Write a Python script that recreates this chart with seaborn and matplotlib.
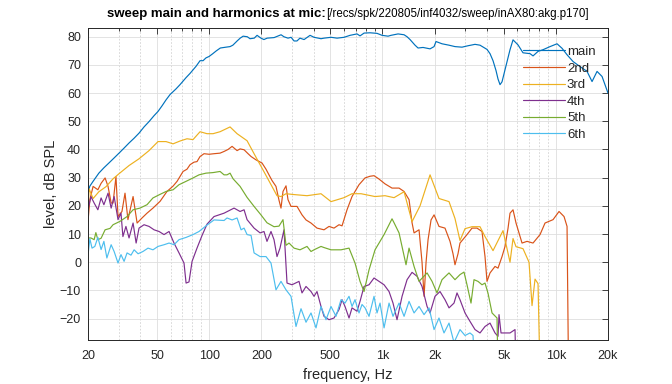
import numpy as np
import pandas as pd
import matplotlib
matplotlib.use("Agg")
import matplotlib.pyplot as plt
from matplotlib.ticker import LogLocator, NullFormatter
import seaborn as sns

# fundamental ("main"), frequency in Hz, level in dB SPL
main_f = [20, 20.5, 21.4, 23.1, 24.7, 26.4, 28.3, 30.2, 32.3, 34.5, 36.9, 39.4, 42.1, 45.0, 48.1,
          50.7, 53.5, 56.4, 59.5, 64.4, 67.9, 73.6, 77.6, 84.0, 88.6, 92.2, 95.9, 99.9, 105, 110,
          116, 125, 132, 137, 145, 151, 157, 166, 172, 182, 189, 199, 207, 216, 237, 260, 270,
          285, 297, 309, 321, 334, 353, 382, 403, 442, 460, 505, 547, 600, 650, 713, 742, 783,
          848, 930, 994, 1077, 1120, 1230, 1332, 1386, 1442, 1541, 1604, 1714, 1881, 1984, 2036,
          2205, 2420, 2620, 2876, 3115, 3418, 3653, 4009, 4172, 4342, 4518, 4640, 4765, 4893,
          5093, 5442, 5664, 6053, 6468, 7099, 7388, 7895, 8438, 9261, 10163, 10861, 11608,
          12571, 13797, 15142, 16182, 17294, 18482, 20000]
main_db = [25, 27, 28.7, 31.6, 33.5, 35.2, 37, 38.7, 40.5, 42.3, 44, 45.8, 48, 49.9, 52,
           53.5, 55.5, 57.6, 59.5, 61.5, 63, 65.5, 67, 69.5, 71.5, 71.5, 72.5, 73, 74, 75,
           76, 76.3, 76.5, 77, 78.5, 79.5, 80.2, 80, 79.3, 79.5, 80.5, 79.5, 79, 79.5, 79.7, 80.7, 80,
           79.5, 79.8, 78.5, 78.5, 79.5, 79, 80.5, 79.8, 79.3, 79.5, 79.8, 79.5, 79.8, 80.5, 81, 80.3, 81.3,
           81.4, 81.2, 80.5, 80.2, 80.5, 81, 80.7, 80, 79, 77, 76, 76.2, 75.7, 76.5, 78.3,
           77.5, 77, 76.5, 76.3, 76.8, 77.3, 77, 75.5, 74, 71.5, 68, 65, 63, 64,
           68.3, 75.4, 78.9, 77.1, 74.3, 74, 73.2, 74.8, 75.4, 76.5, 77.5, 75.9, 73.6,
           71.2, 69.4, 67.7, 64.1, 67.7, 65.9, 60]

# 2nd harmonic
h2_f = [20, 20.5, 21.4, 22.8, 23.8, 25.1, 26.1, 27.2, 27.9, 29.0, 29.8, 31.4, 32.7, 34.0, 36.4,
        38.4, 41.0, 43.8, 47.4, 52.1, 57.1, 61.9, 65.3, 70.7, 74.5, 77.6, 81.8, 85.1, 88.6, 93.4,
        99.9, 106.7, 115.6, 121.9, 128.5, 135.6, 144.9, 150.8, 159.0, 167.7, 174.5, 186.5, 201.8,
        212.8, 221.4, 230.4, 243.0, 252.9, 259.7, 266.7, 277.6, 285.0, 296.6, 321.3, 343.3, 362.1,
        386.9, 419.0, 459.9, 491.5, 525.2, 561.3, 584.2, 624.3, 667.2, 732.2, 793.0, 847.5, 893.8,
        955.2, 1034, 1135, 1246, 1332, 1423, 1481, 1521, 1625, 1691, 1737, 1784, 1832, 1906, 1984,
        2118, 2294, 2452, 2552, 2620, 2727, 2800, 3073, 3285, 3510, 3751, 3904, 4009, 4172, 4459,
        4640, 4893, 5093, 5299, 5442, 5664, 5894, 6383, 6822, 7388, 8108, 8665, 9637, 10437,
        11154, 11608, 11842]
h2_db = [14.5, 22.2, 26.9, 25.7, 28, 29.9, 26.9, 21, 21, 30.4, 16.2, 18, 24.5, 15.1, 23.3,
         13.9, 15.7, 17.4, 19.2, 21.6, 25.1, 27, 28.7, 32.2, 33, 34.6, 35.5, 35.7, 37.5, 38.5,
         38.3, 38.5, 38.7, 39.3, 40, 41.1, 39.6, 40.2, 39.9, 38.5, 37.5, 36.3, 35.2,
         33, 31, 29, 26.9, 22, 19.2, 25.1, 27.1, 22.2, 19.8, 19.8, 16.8, 15,
         13.9, 12.1, 11.5, 12.7, 12.1, 13.3, 12.9, 18.6, 23.3, 27.5, 29.9, 30.5, 30.7,
         29.5, 27.8, 26.3, 26.3, 25.1, 22.2, 14, 10.4, 11.5, 0, -12.1, 0, 8, 15, 16.8,
         12.7, 12.1, 7.4, 3, -0.9, 3, 6.8, 9.8, 12.1, 12.1, 10.9, 2, -6.8, -3.8, -1.5,
         -2.1, 2, 5.6, 12, 17.4, 18.6, 13.9, 6.8, 7.4, 6.8, 9.8, 13.9, 15.1, 18,
         16.2, 12.7, -40]

# 3rd harmonic
h3_f = [20, 20.3, 21.4, 23.1, 25.4, 27.9, 30.2, 34.5, 39.4, 45.0, 50.7, 56.4, 61.9, 67.9, 74.5,
        80.7, 88.6, 97.2, 105.3, 115.6, 132.0, 144.9, 165.5, 181.6, 207.2, 246.3, 259.7, 277.6,
        308.7, 366.9, 441.9, 504.7, 599.9, 667.2, 751.9, 905.7, 1034, 1166, 1332, 1481, 1647,
        1881, 2118, 2420, 2620, 2800, 2993, 3285, 3653, 3904, 4342, 4959, 5442, 5664, 5894,
        6468, 7005, 7290, 7587, 7895, 8108]
h3_db = [19, 26, 22.6, 25, 26.8, 29.6, 31.4, 34.3, 36.7, 39.6, 42.8, 42.8, 42, 43, 43.8,
         43.5, 46.3, 45.6, 45.6, 46.3, 48, 45.6, 43.1, 38.5, 32.1, 23.6, 23.3, 24.3,
         24, 23.6, 24.3, 21.5, 22.9, 24.3, 24.3, 23.3, 23.6, 22.9, 25, 14.4, 20,
         31, 22.6, 21.5, 15.5, 7.7, 11.9, 12.6, 12.6, 9.1, 4.1, 11.2, 0, 8.4, 5.5,
         4.8, 0, -15.4, -6, -7.6, -40]

# 4th harmonic
h4_f = [20, 20.8, 21.7, 22.8, 23.8, 24.7, 26.1, 27.2, 28.3, 29.8, 31.0, 31.8, 33.1, 34.5, 36.4,
        37.9, 39.4, 42.1, 45.0, 48.1, 51.4, 54.9, 58.7, 62.7, 67.0, 71.6, 73.6, 76.5, 79.7, 85.1,
        91.0, 97.2, 106.7, 121.9, 139.2, 150.8, 159.0, 165.5, 181.6, 196.7, 207.2, 215.6, 227.4,
        236.7, 246.3, 256.3, 270.3, 281.3, 300.6, 329.9, 343.3, 362.1, 386.9, 402.7, 419.0, 441.9,
        459.9, 491.5, 525.2, 561.3, 584.2, 607.9, 641.1, 667.2, 713.0, 742.0, 782.5, 836.3, 893.8,
        955.2, 1021, 1091, 1150, 1213, 1297, 1386, 1481, 1583, 1691, 1808, 1881, 2009, 2147,
        2294, 2420, 2586, 2691, 2800, 2993, 3198, 3418, 3653, 3904, 4172, 4459, 4640, 4702,
        4829, 5442, 5816, 5894]
h4_db = [18.6, 23.3, 21, 18.6, 22.8, 20.4, 24.5, 19.2, 23.3, 15.1, 17.4, 9.1, 12.7, 8.6, 13.9,
         6.8, 12.1, 13.3, 12.7, 11.5, 10.9, 9.8, 10.9, 6.8, 3.3, -0.3, -7.4, -7, 0.3, 5,
         9.5, 13.5, 16.2, 17.4, 19.2, 18, 18.6, 15.1, 12.1, 10.4, 10.9, 7.4, 10.9,
         8, 2, 5, 11.5, -7.4, -8, -6.8, -10.9, -8.6, -10.4, -12.1, -10.4, -15.7,
         -19.2, -20.4, -19.8, -16.8, -13.3, -15.7, -19.8, -16.2, -17.4, -13.9, -8.6, -8, -5.6,
         -6.8, -8, -10.4, -14.5, -20.4, -12.1, -6.2, -3.6, -5, -8.6, -15.7, -18, -12.1, -10.4,
         -13.3, -16.2, -14.5, -10.9, -13.3, -18, -21, -23.9, -25.1, -22.8, -21.6, -25.1, -26.3, -18.6,
         -25.1, -25.1, -23.9, -40]

# 5th harmonic
h5_f = [20, 20.8, 21.7, 22.2, 22.8, 23.8, 25.1, 26.8, 27.9, 30.6, 33.6, 36.4, 39.9, 43.8, 47.4,
        51.4, 56.4, 61.9, 67.0, 73.6, 80.7, 87.4, 95.9, 105.3, 115.6, 121.9, 126.8, 132.0, 137.4,
        150.8, 165.5, 181.6, 199, 215.6, 236.7, 252.9, 266.7, 277.6, 288.9, 308.7, 334.3, 366.9,
        386.9, 402.7, 441.9, 459.9, 504.7, 576.5, 641.1, 694.3, 742.0, 782.5, 836.3, 905.7, 1021,
        1135, 1166, 1246, 1367, 1423, 1521, 1625, 1808, 1932, 2063, 2205, 2420, 2620, 2800,
        2953, 3073, 3241, 3373, 3557, 3751, 3904, 4063, 4285, 4579, 4640]
h5_db = [8.6, 8.6, 8, 10.5, 8, 8.5, 11.5, 12, 13.3, 14.5, 16.2, 18.6, 19.2, 20.4, 22.8,
         23.9, 25.1, 25.7, 27.5, 28.7, 29.9, 31, 31.6, 31.8, 32.2, 31, 31, 31.6, 29.6,
         26.9, 23, 19.8, 16.8, 14, 12.6, 12.8, 15.1, 6, 6.8, 5, 4.4, 5.6,
         3.8, 4.4, 5.6, 5.2, 4.4, 4.4, 5, -0.3, -6.8, -10.4, -2.7, 4.4, 9.8,
         15.4, 14, 10.4, -0.9, 5, -1.5, -6.8, -3.8, -6.8, -10.9, -6.2, -3.8, -6.2, -4.4,
         -3.5, -8, -14.5, -6.2, -6.8, -8, -7.4, -11, -18, -19.8, -40]

# 6th harmonic
h6_f = [20, 20.5, 21.1, 21.9, 22.8, 23.8, 24.7, 25.7, 27.2, 28.3, 29.8, 31.0, 32.3, 33.6, 35.4,
        36.9, 38.9, 41.5, 44.4, 47.4, 50.7, 54.9, 58.7, 62.7, 67.0, 73.6, 80.7, 87.4, 95.9, 106.7,
        121.9, 126.8, 135.6, 144.9, 152.8, 159.0, 165.5, 174.5, 181.6, 196.7, 212.8, 227.4, 243.0,
        259.7, 277.6, 296.6, 317.0, 338.8, 362.1, 386.9, 413.5, 441.9, 472.3, 504.7, 539.4, 576.5,
        607.9, 641.1, 667.2, 694.3, 732.2, 762.0, 793.0, 836.3, 893.8, 930.1, 968.0, 1021, 1091,
        1150, 1246, 1332, 1423, 1521, 1625, 1737, 1856, 1984, 2118, 2264, 2420, 2586, 2800,
        2993, 3198, 3329, 3418]
h6_db = [2.5, 8.3, 5, 5.6, 8.8, 4.5, 7.4, 1.5, 6.2, 3.8, -0.3, 2.7, 0.3, 3.3, 2.5,
         4.4, 3, 3.8, 5, 4.4, 5.6, 6.2, 6.8, 6.2, 8, 8.8, 9.8, 10.9, 12.9, 15,
         14.8, 15.7, 15, 15.7, 11.5, 12.1, 9.8, 9.5, 3.3, 2, 2, -0.3, -9.8,
         -6.8, -9.8, -12.1, -22.8, -16.5, -21.3, -18, -23.3, -15.7, -20.4, -15.7, -19.2, -13.3,
         -14.5, -12.1, -15.7, -13.3, -18, -15, -16.2, -19.2, -12.1, -18, -14.5, -23.3, -14.5,
         -19.2, -14.5, -19.2, -13.9, -18, -15.7, -18.6, -16.2, -23.9, -19.8, -25.1, -21.6, -28.5, -23.9,
         -26, -25.1, -26, -40]

series_names = ["main", "2nd", "3rd", "4th", "5th", "6th"]
series_f = [main_f, h2_f, h3_f, h4_f, h5_f, h6_f]
series_db = [main_db, h2_db, h3_db, h4_db, h5_db, h6_db]

tick_freqs = [20, 50, 100, 200, 500, 1000, 2000, 5000, 10000, 20000]
tick_labels = ["20", "50", "100", "200", "500", "1k", "2k", "5k", "10k", "20k"]
level_ticks = [-20, -10, 0, 10, 20, 30, 40, 50, 60, 70, 80]

# matlab default colour order
colors = ["#0072BD", "#D95319", "#EDB120", "#7E2F8E", "#77AC30", "#4DBEEE"]

df = pd.concat([pd.DataFrame({"freq": f, "level": db, "series": name})
                for name, f, db in zip(series_names, series_f, series_db)],
               ignore_index=True)

sns.set_theme(style="white")
plt.rcParams['font.family'] = ['Liberation Sans', 'DejaVu Sans']

W, H = 672, 384
fig = plt.figure(figsize=(W / 100, H / 100), dpi=100)
ax = fig.add_axes([88 / W, 1 - 340 / H, 520 / W, 312 / H])

sns.lineplot(data=df, x="freq", y="level", hue="series", hue_order=series_names,
             palette=colors, estimator=None, sort=False, linewidth=0.85, ax=ax)

ax.set_xscale("log")
ax.set_xlim(20, 20000)
ax.set_ylim(-27.6, 83.1)
ax.set_xticks(tick_freqs)
ax.set_xticklabels(tick_labels)
ax.xaxis.set_minor_locator(LogLocator(base=10, subs=np.arange(2, 10)))
ax.xaxis.set_minor_formatter(NullFormatter())
ax.set_yticks(level_ticks)

ax.tick_params(which='both', direction='in', top=True, right=True, width=0.6,
               colors='#262626', labelsize=9)
ax.tick_params(axis='y', pad=5)
ax.tick_params(axis='x', pad=7.5)
ax.tick_params(which='major', length=4)
ax.tick_params(which='minor', length=2.5)
ax.grid(which='major', color='#dedede', lw=0.6, ls='-')
ax.grid(which='minor', axis='x', color='#d2d2d2', lw=0.6, ls=(0, (2, 2)))
ax.set_axisbelow(True)
for s in ax.spines.values():
    s.set_color('#262626')
    s.set_linewidth(0.7)

ax.set_xlabel("frequency, Hz", fontsize=10.5, color='#262626', labelpad=4)
ax.set_ylabel("level, dB SPL", fontsize=10.5, color='#262626', labelpad=1)

sns.move_legend(ax, loc='upper left', bbox_to_anchor=(0.836, 0.943), title=None,
                frameon=False, fontsize=9.5, handlelength=3.2, handletextpad=0.15,
                labelspacing=0.33, borderpad=0, borderaxespad=0)

# two-part title: bold text followed by the path in plain text
fig.canvas.draw()
r = fig.canvas.get_renderer()
t1 = fig.text(0, 0, "sweep main and harmonics at mic:", fontsize=9.5, fontweight='bold',
              color='black', va='baseline')
t2 = fig.text(0, 0, "[/recs/spk/220805/inf4032/sweep/inAX80:akg.p170]", fontsize=8.3,
              color='black', va='baseline')
w1 = t1.get_window_extent(r).width
w2 = t2.get_window_extent(r).width
x0 = (88 + 608) / 2 - (w1 + w2) / 2
t1.set_position((x0 / W, 1 - 17 / H))
t2.set_position(((x0 + w1) / W, 1 - 17 / H))

fig.savefig("out.png", dpi=100)
